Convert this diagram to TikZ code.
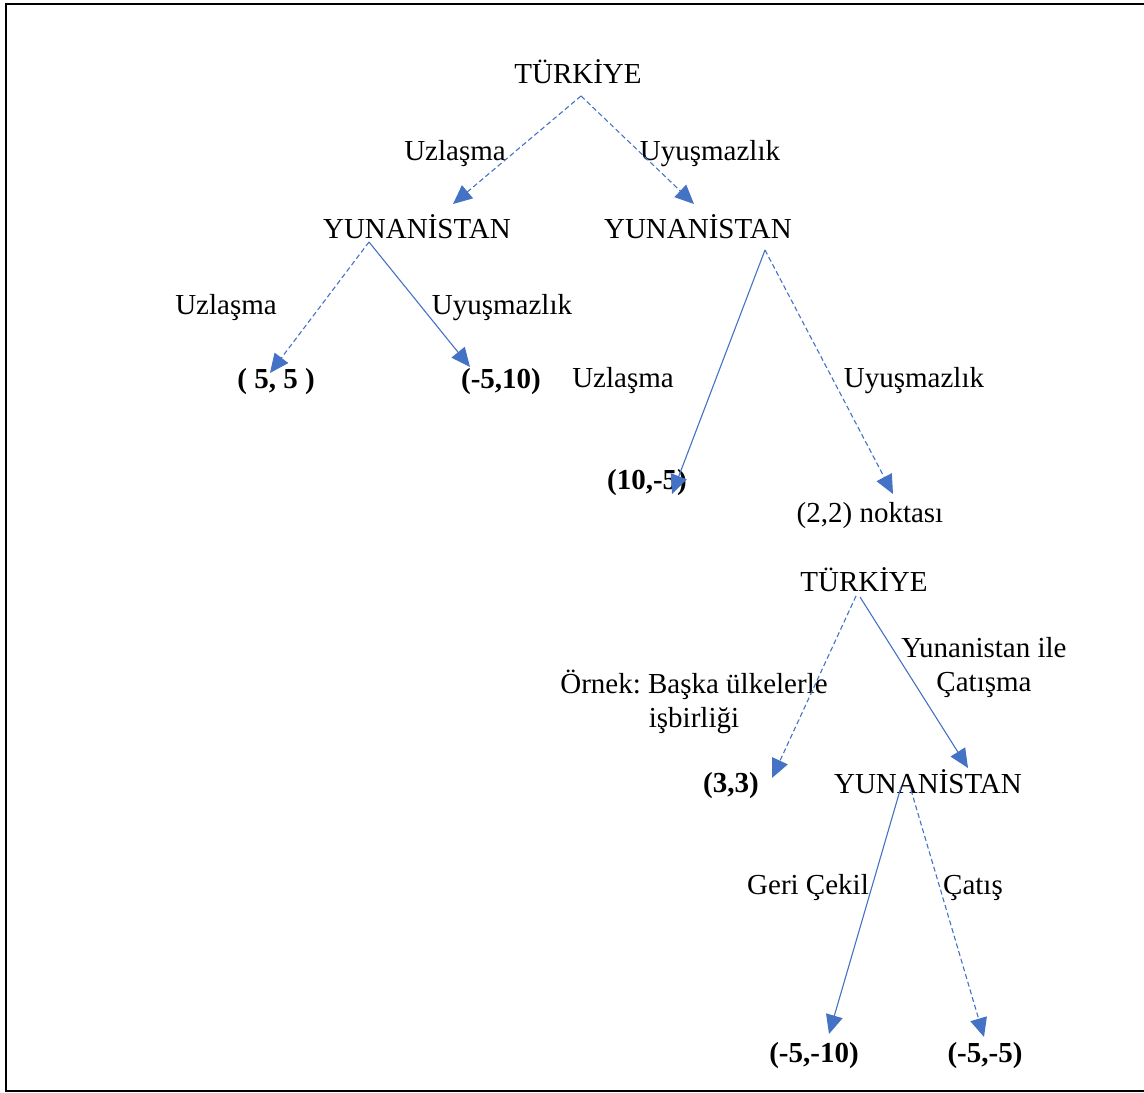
\documentclass[tikz,border=0pt]{standalone}
\usepackage{fontspec}
\setmainfont{Liberation Serif}
\usetikzlibrary{arrows.meta}
\definecolor{arrowblue}{HTML}{4472C4}
\frenchspacing
\tikzset{
  upperlbl/.style={inner sep=0pt, font=\fontsize{29}{34}\selectfont},
  lbl/.style={inner sep=0pt, yshift=-3pt, font=\fontsize{29}{34}\selectfont\frenchspacing},
  pay/.style={inner sep=0pt, yshift=-3pt, font=\fontsize{29}{34}\selectfont\bfseries},
  arr/.style={draw=arrowblue, line width=1.1pt, -{Triangle[length=19pt,width=17pt]}, arrowblue},
  dsh/.style={arr, dash pattern=on 5pt off 3pt},
}
\begin{document}
\begin{tikzpicture}[x={(1pt,0)}, y={(0,-1pt)}]
\useasboundingbox (0,0) rectangle (1144,1093);
\draw[line width=1.6pt] (1150,4) -- (6,4) -- (6,1091) -- (1150,1091);

% level 1
\node[upperlbl] (t1) at (578,72) {TÜRKİYE};
\node[upperlbl] (y1) at (417,227) {YUNANİSTAN};
\node[upperlbl] (y2) at (698,227) {YUNANİSTAN};
\node[lbl] (l1) at (455,151) {Uzlaşma};
\node[lbl] (l2) at (710,151) {Uyuşmazlık};
\coordinate (t1s) at (581,96);
\coordinate (y1e) at (453,204);
\coordinate (y2e) at (694,204);
\draw[dsh] (t1s) -- (y1e);
\draw[dsh] (t1s) -- (y2e);

% left subtree
\node[lbl] (l3) at (226,305) {Uzlaşma};
\node[lbl] (l4) at (502,305) {Uyuşmazlık};
\node[pay] (p1) at (276,379) {( 5, 5 )};
\node[pay] (p2) at (501,379) {(-5,10)};
\coordinate (y1s) at (369,242);
\coordinate (p1e) at (270,373);
\coordinate (p2e) at (470,367);
\draw[dsh] (y1s) -- (p1e);
\draw[arr] (y1s) -- (p2e);

% right subtree
\node[lbl] (l5) at (623,378) {Uzlaşma};
\node[lbl] (l6) at (914,378) {Uyuşmazlık};
\node[pay] (p3) at (647,480) {(10,-5)};
\node[lbl] (p4) at (870,513) {(2,2) noktası};
\coordinate (y2s) at (765,250);
\coordinate (p3e) at (672,494);
\coordinate (p4e) at (893,494);
\draw[arr] (y2s) -- (p3e);
\draw[dsh] (y2s) -- (p4e);

% second game
\node[upperlbl] (t2) at (864,580) {TÜRKİYE};
\node[lbl, align=center] (l7) at (694,699) {Örnek: Başka ülkelerle\\işbirliği};
\node[lbl, align=center] (l8) at (984,665) {Yunanistan ile\\Çatışma};
\node[pay] (p5) at (731,783) {(3,3)};
\node[upperlbl] (y3) at (928,782) {YUNANİSTAN};
\coordinate (t2a) at (856,596);
\coordinate (t2b) at (860,597);
\coordinate (p5e) at (772,778);
\coordinate (y3e) at (968,768);
\draw[dsh] (t2a) -- (p5e);
\draw[arr] (t2b) -- (y3e);

% last level
\node[lbl] (l9) at (808,885) {Geri Çekil};
\node[lbl] (l10) at (973,885) {Çatış};
\node[pay] (p6) at (814,1053) {(-5,-10)};
\node[pay] (p7) at (985,1053) {(-5,-5)};
\coordinate (y3a) at (901,787);
\coordinate (y3b) at (911,790);
\coordinate (p6e) at (829,1034);
\coordinate (p7e) at (984,1037);
\draw[arr] (y3a) -- (p6e);
\draw[dsh] (y3b) -- (p7e);
\end{tikzpicture}
\end{document}
